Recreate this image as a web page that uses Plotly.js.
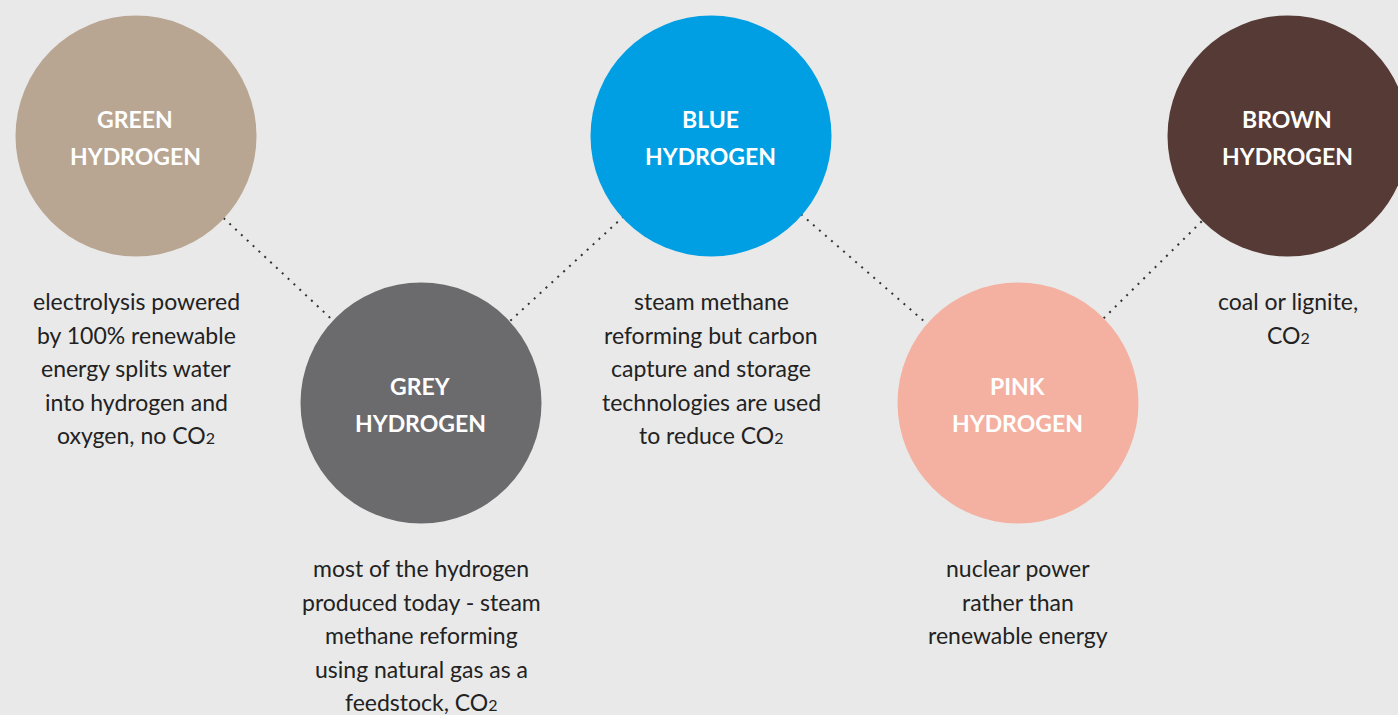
<!DOCTYPE html>
<html>
<head>
<meta charset="utf-8">
<script src="https://cdn.plot.ly/plotly-3.0.1.min.js"></script>
<style>html,body{margin:0;padding:0;background:#e9e9e9;}#chart{width:1398px;height:715px;}</style>
</head>
<body>
<div id="chart"></div>
<script>
// ---- data ----
const colourNames = ['GREEN', 'GREY', 'BLUE', 'PINK', 'BROWN'];
const suffix = 'HYDROGEN';
const xVals = [136, 421, 711, 1018, 1288];
const yVals = [136, 403, 136, 403, 136];
const fills = ['#b8a592', '#6b6b6d', '#009fe3', '#f4b1a1', '#553a36'];
const descGreen = ['electrolysis powered', 'by 100% renewable', 'energy splits water', 'into hydrogen and', 'oxygen, no CO2'];
const descGrey = ['most of the hydrogen', 'produced today - steam', 'methane reforming', 'using natural gas as a', 'feedstock, CO2'];
const descBlue = ['steam methane', 'reforming but carbon', 'capture and storage', 'technologies are used', 'to reduce CO2'];
const descPink = ['nuclear power', 'rather than', 'renewable energy'];
const descBrown = ['coal or lignite,', 'CO2'];
const descriptions = [descGreen, descGrey, descBlue, descPink, descBrown];

// ---- drawing ----
const FONT = 'Lato, "Noto Sans", sans-serif';
const fmt = s => s.replace('CO2', 'CO<span style="font-size:16px">2</span>');

const traces = [];
// dotted connectors between consecutive circles
traces.push({
  x: xVals, y: yVals, mode: 'lines', hoverinfo: 'skip',
  line: {color: '#333333', width: 2, dash: '2px,6px'}
});
// circles
traces.push({
  x: xVals, y: yVals, mode: 'markers', hoverinfo: 'skip',
  marker: {size: 241, color: fills, line: {width: 0}, opacity: 1}
});

const annotations = [];
const LABEL_GAP = 37, DESC_GAP = 33.6, DESC_OFFSET = 165;
colourNames.forEach((nm, i) => {
  [nm, suffix].forEach((t, k) => {
    annotations.push({
      x: xVals[i] - 1, y: yVals[i] - 17 + k * LABEL_GAP, xref: 'x', yref: 'y',
      text: t, showarrow: false, xanchor: 'center', yanchor: 'middle',
      font: {family: FONT, size: 23, color: '#ffffff', weight: 'bold'}
    });
  });
  descriptions[i].forEach((t, k) => {
    annotations.push({
      x: xVals[i], y: yVals[i] + DESC_OFFSET + k * DESC_GAP, xref: 'x', yref: 'y',
      text: fmt(t), showarrow: false, xanchor: 'center', yanchor: 'middle',
      font: {family: FONT, size: 23, color: '#222222'}
    });
  });
});

const layout = {
  width: 1398, height: 715,
  margin: {l: 0, r: 0, t: 0, b: 0, pad: 0},
  paper_bgcolor: '#e9e9e9', plot_bgcolor: '#e9e9e9',
  showlegend: false,
  xaxis: {range: [0, 1398], visible: false, fixedrange: true},
  yaxis: {range: [715, 0], visible: false, fixedrange: true},
  annotations: annotations
};
Plotly.newPlot('chart', traces, layout, {displayModeBar: false, staticPlot: true});
</script>
</body>
</html>
